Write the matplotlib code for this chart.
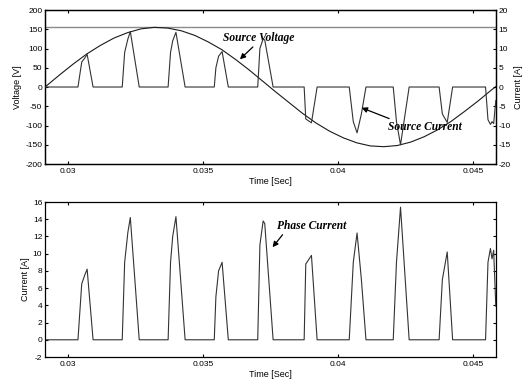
import matplotlib
matplotlib.use('Agg')
import matplotlib.pyplot as plt
import numpy as np

# 0. Data
# source voltage (sampled along the sine)
t_v = [0.02915, 0.0297, 0.0302, 0.0307, 0.0312, 0.0317, 0.0322, 0.0327, 0.0332,
       0.0337, 0.0342, 0.0347, 0.0352, 0.0357, 0.0362, 0.0367, 0.0372, 0.0377,
       0.0382, 0.0387, 0.0392, 0.0397, 0.0402, 0.0407, 0.0412, 0.0417, 0.0422,
       0.0427, 0.0432, 0.0437, 0.0442, 0.0447, 0.0452, 0.0457, 0.04585]
v_src = [0, 32, 60, 86, 108, 127, 141, 151, 155,
         153, 146, 134, 117, 97, 72, 45, 16, -13,
         -41, -69, -94, -115, -132, -145, -153, -155, -152,
         -143, -129, -111, -89, -63, -36, -7, 1]
v_dc = 157

# phase current pulses
t_i = [0.02915, 0.03037, 0.03051, 0.03062, 0.03071, 0.03093,
       0.03201, 0.03210, 0.03222, 0.03231, 0.03264,
       0.03371, 0.03380, 0.03388, 0.03400, 0.03434,
       0.03542, 0.03548, 0.03558, 0.03571, 0.03594,
       0.03703, 0.03711, 0.03723, 0.03729, 0.03760,
       0.03875, 0.03881, 0.03902, 0.03923,
       0.04042, 0.04057, 0.04071, 0.04087, 0.04104,
       0.04205, 0.04217, 0.04232, 0.04264,
       0.04375, 0.04387, 0.04405, 0.04425,
       0.04547, 0.04556, 0.04565, 0.04571, 0.04577, 0.04585]
i_phase = [0, 0, 6.5, 7.5, 8.2, 0,
           0, 9, 12.5, 14.2, 0,
           0, 9, 12, 14.3, 0,
           0, 5, 8, 9, 0,
           0, 11, 13.8, 13.5, 0,
           0, 8.8, 9.8, 0,
           0, 9, 12.4, 7, 0,
           0, 9, 15.4, 0,
           0, 7, 10.2, 0,
           0, 9, 10.6, 9.4, 10.4, 3.9]
# source current (same pulses, negative in the second half cycle)
i_src = [0, 0, 6.5, 7.5, 8.5, 0,
         0, 9, 12.5, 14.4, 0,
         0, 9, 12, 14.2, 0,
         0, 5, 8, 9.2, 0,
         0, 10, 12.5, 12.2, 0,
         0, -8.3, -9.3, 0,
         0, -9, -11.9, -7, 0,
         0, -9, -15.0, 0,
         0, -7, -9.2, 0,
         0, -8.5, -9.7, -9.0, -9.5, -3.5]

x_ticks = [0.03, 0.035, 0.04, 0.045]
x_ticklabels = ['0.03', '0.035', '0.04', '0.045']

# 1. Style
plt.rcParams.update({
    'font.family': 'Liberation Sans',
    'font.size': 6,
    'axes.unicode_minus': False,
    'xtick.direction': 'in',
    'ytick.direction': 'in',
    'xtick.major.size': 2.5,
    'ytick.major.size': 2.5,
    'xtick.major.pad': 3,
    'ytick.major.pad': 2,
    'axes.linewidth': 0.9,
})
C_LINE = '#1a1a1a'
ann_font = dict(family='Liberation Serif', style='italic', weight='bold', size=8.3)
arrow = dict(arrowstyle='-|>', color='k', lw=0.9, mutation_scale=8,
             shrinkA=0, shrinkB=0)
xlim = (0.02915, 0.04585)

fig = plt.figure(figsize=(5.26, 3.85), dpi=100)

# Panel (a): source voltage and source current
ax_v = fig.add_axes([0.0856, 0.574, 0.857, 0.400])
ax_v.plot(t_v, v_src, color=C_LINE, lw=0.8, zorder=3)
ax_v.axhline(v_dc, color='#8a8a8a', lw=1.0, zorder=2)
ax_v.set_xlim(*xlim)
ax_v.set_ylim(-200, 200)
ax_v.set_yticks(np.arange(-200, 201, 50))
ax_v.set_xticks(x_ticks)
ax_v.set_xticklabels(x_ticklabels)
ax_v.tick_params(top=True)
ax_v.set_ylabel('Voltage [V]', fontsize=6.5, labelpad=2)
ax_v.set_xlabel('Time [Sec]', fontsize=6.5, labelpad=1)

ax_c = ax_v.twinx()
ax_c.plot(t_i, i_src, color='#333333', lw=0.8, zorder=3)
ax_c.set_ylim(-20, 20)
ax_c.set_yticks(np.arange(-20, 21, 5))
ax_c.set_ylabel('Current [A]', fontsize=6.5, labelpad=2)

# annotations: text + separate arrow
ax_v.text(0.03707, 127, 'Source Voltage', ha='center', va='center', **ann_font)
ax_v.annotate('', xy=(0.03637, 72), xytext=(0.03685, 104), arrowprops=arrow)
ax_c.text(0.04324, -10.5, 'Source Current', ha='center', va='center', **ann_font)
ax_c.annotate('', xy=(0.04088, -5.4), xytext=(0.04190, -8.2), arrowprops=arrow)

# Panel (b): phase current
ax_p = fig.add_axes([0.0856, 0.0727, 0.857, 0.4026])
ax_p.plot(t_i, i_phase, color='#333333', lw=0.8)
ax_p.set_xlim(*xlim)
ax_p.set_ylim(-2, 16)
ax_p.set_yticks(np.arange(-2, 17, 2))
ax_p.set_xticks(x_ticks)
ax_p.set_xticklabels(x_ticklabels)
ax_p.tick_params(top=True, right=True)
ax_p.set_ylabel('Current [A]', fontsize=6.5, labelpad=2)
ax_p.set_xlabel('Time [Sec]', fontsize=6.5, labelpad=1)
ax_p.text(0.03904, 13.2, 'Phase Current', ha='center', va='center', **ann_font)
ax_p.annotate('', xy=(0.03758, 10.75), xytext=(0.03795, 12.2), arrowprops=arrow)

fig.savefig('out.png', dpi=100)
